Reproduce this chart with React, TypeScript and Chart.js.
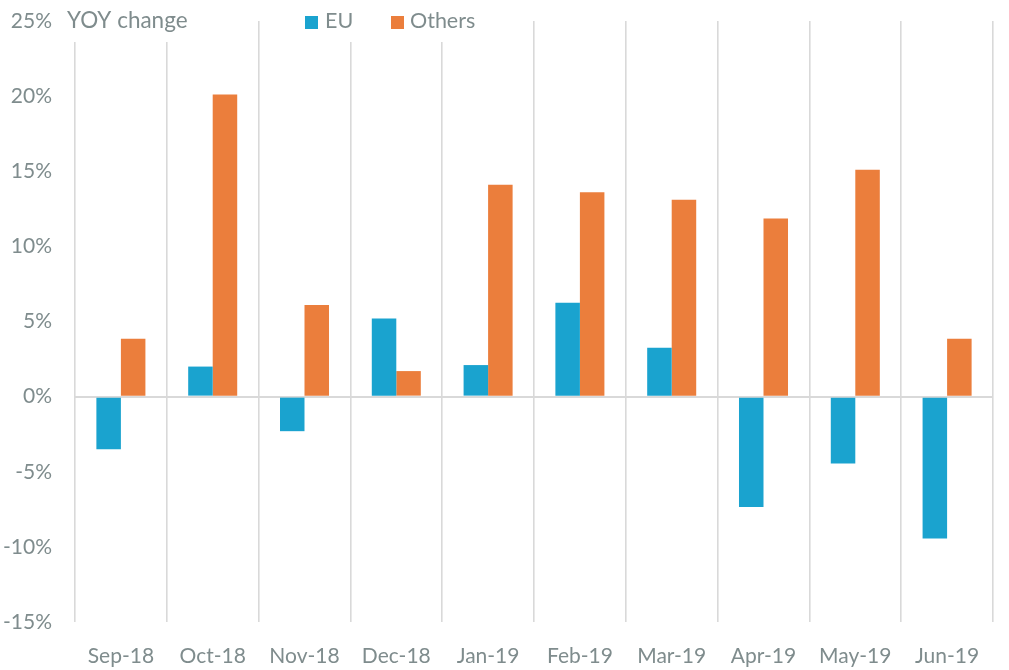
import React, { useEffect, useRef } from "react";
import { Chart, registerables } from "chart.js";

Chart.register(...registerables);

const categories = ["Sep-18", "Oct-18", "Nov-18", "Dec-18", "Jan-19", "Feb-19", "Mar-19", "Apr-19", "May-19", "Jun-19"];
const euValues = [-3.5, 2.0, -2.3, 5.2, 2.1, 6.25, 3.25, -7.35, -4.45, -9.45];
const othersValues = [3.85, 20.1, 6.1, 1.7, 14.1, 13.6, 13.1, 11.85, 15.1, 3.85];
const yTicks = { min: -15, max: 25, step: 5 };
const axisTitle = "YOY change";
const seriesNames = ["EU", "Others"];

const BLUE = "#1AA3CF";
const ORANGE = "#EB7E3C";
const GRID = "#D9D9D9";
const TEXT = "#7F8C8D";
const FONT = "Lato, 'Noto Sans', sans-serif";

const overlayPlugin = {
  id: "overlay",
  beforeDatasetsDraw(chart: any) {
    const ctx = chart.ctx;
    ctx.save();
    ctx.fillStyle = "#ffffff";
    ctx.fillRect(62, 0, 134, 42);
    ctx.fillRect(295, 0, 195, 42);
    ctx.restore();
  },
  afterDraw(chart: any) {
    const ctx = chart.ctx;
    ctx.save();
    ctx.textBaseline = "middle";
    ctx.textAlign = "left";
    ctx.font = `22.5px ${FONT}`;
    ctx.fillStyle = TEXT;
    ctx.fillText(axisTitle, 67, 21);
    ctx.font = `21.5px ${FONT}`;
    ctx.fillStyle = BLUE;
    ctx.fillRect(305, 16, 13, 13);
    ctx.fillStyle = TEXT;
    ctx.fillText(seriesNames[0], 325, 21);
    ctx.fillStyle = ORANGE;
    ctx.fillRect(391, 16, 13, 13);
    ctx.fillStyle = TEXT;
    ctx.fillText(seriesNames[1], 410, 21);
    ctx.restore();
  },
};

export default function App() {
  const ref = useRef<HTMLCanvasElement | null>(null);
  useEffect(() => {
    document.body.style.margin = "0";
    if (!ref.current) return;
    const chart = new Chart(ref.current, {
      type: "bar",
      data: {
        labels: categories,
        datasets: [
          { label: seriesNames[0], data: euValues, backgroundColor: BLUE, categoryPercentage: 0.534, barPercentage: 1 },
          { label: seriesNames[1], data: othersValues, backgroundColor: ORANGE, categoryPercentage: 0.534, barPercentage: 1 },
        ],
      },
      options: {
        animation: false,
        responsive: false,
        devicePixelRatio: 1,
        layout: { padding: { top: 21, right: 16, left: 0, bottom: 0 } },
        plugins: { legend: { display: false }, tooltip: { enabled: false } },
        scales: {
          x: {
            afterFit: (s: any) => { s.height = 48; },
            grid: { offset: true, color: GRID, lineWidth: 1.6, drawTicks: false },
            border: { display: false },
            ticks: { color: TEXT, font: { family: FONT, size: 21 }, padding: 22, maxRotation: 0 },
          },
          y: {
            min: yTicks.min,
            max: yTicks.max,
            afterFit: (s: any) => { s.width = 75; },
            grid: {
              drawTicks: true,
              tickLength: 23,
              tickColor: "rgba(0,0,0,0)",
              color: (c: any) => (c.tick && c.tick.value === 0 ? GRID : "rgba(0,0,0,0)"),
              lineWidth: 2,
            },
            border: { display: false },
            ticks: {
              stepSize: yTicks.step,
              color: TEXT,
              font: { family: FONT, size: 21 },
              padding: 0,
              callback: (v: any) => `${v}%`,
            },
          },
        },
      },
      plugins: [overlayPlugin],
    });
    return () => chart.destroy();
  }, []);
  return (
    <div style={{ width: 1009, height: 670 }}>
      <canvas ref={ref} width={1009} height={670} style={{ display: "block" }} />
    </div>
  );
}
